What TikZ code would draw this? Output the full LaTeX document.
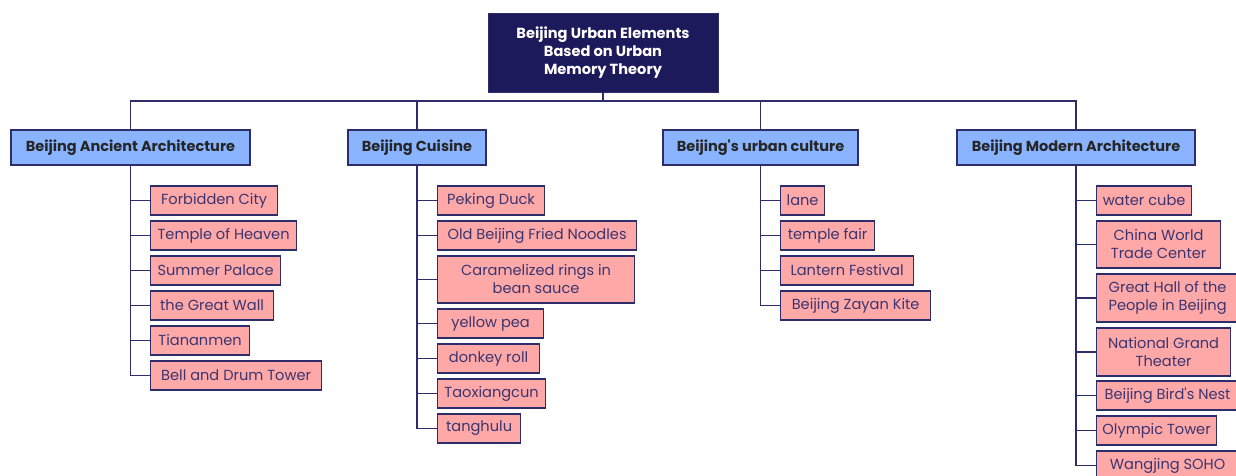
\documentclass[tikz,border=0pt]{standalone}
\usepackage{fontspec}
\setmainfont{Poppins}
\definecolor{navy}{HTML}{1C1A5A}
\definecolor{edge}{HTML}{2E2D6B}
\definecolor{catfill}{HTML}{8AB4FF}
\definecolor{leaffill}{HTML}{FFA8A8}
\definecolor{leaftext}{HTML}{3A3570}
\begin{document}
\begin{tikzpicture}[x=1pt,y=-1pt,
  rootbox/.style={draw=edge,line width=1pt,fill=navy,text=white,font=\fontsize{14.6}{18}\selectfont\bfseries,align=center,minimum width=230pt,minimum height=79pt,inner sep=0pt},
  catbox/.style={draw=edge,line width=1.2pt,fill=catfill,text=black!85,font=\fontsize{14.5}{17}\selectfont\bfseries,minimum height=35pt,inner sep=0pt},
  leaf/.style={draw=edge,line width=1.2pt,fill=leaffill,text=leaftext,font=\fontsize{14.6}{18}\selectfont,align=center,anchor=west,inner sep=0pt},
  conn/.style={draw=edge,line width=1.6pt}]
\useasboundingbox (0,0) rectangle (1236,475);
\clip (0,0) rectangle (1236,475);
\fill[white] (0,0) rectangle (1236,475);

\node[rootbox] (root) at (603,52.5) {Beijing Urban Elements\\Based on Urban\\Memory Theory};
\coordinate (bus) at (603,101);

\node[catbox,minimum width=239pt] (ca) at (130.5,147.5) {Beijing Ancient Architecture};
\node[catbox,minimum width=138pt] (cb) at (417,147.5) {Beijing Cuisine};
\node[catbox,minimum width=195pt] (cc) at (760.5,147.5) {Beijing\textquotesingle s urban culture};
\node[catbox,minimum width=238pt] (cd) at (1076,147.5) {Beijing Modern Architecture};

\foreach \c in {ca,cb,cc,cd} \draw[conn] (root.south) |- (\c.north |- bus) -- (\c.north);

% Ancient
\node[leaf,minimum width=127pt,minimum height=29pt] (a1) at (150,200.5) {Forbidden City};
\node[leaf,minimum width=146pt,minimum height=29pt] (a2) at (150,235.5) {Temple of Heaven};
\node[leaf,minimum width=130pt,minimum height=29pt] (a3) at (150,270.5) {Summer Palace};
\node[leaf,minimum width=123pt,minimum height=29pt] (a4) at (150,305.5) {the Great Wall};
\node[leaf,minimum width=99pt,minimum height=29pt] (a5) at (150,340.5) {Tiananmen};
\node[leaf,minimum width=171pt,minimum height=29pt] (a6) at (150,375.5) {Bell and Drum Tower};
\foreach \n in {a1,a2,a3,a4,a5,a6} \draw[conn] (ca.south) |- (\n.west);

% Cuisine
\node[leaf,minimum width=107pt,minimum height=29pt] (b1) at (437,200.5) {Peking Duck};
\node[leaf,minimum width=199pt,minimum height=29pt] (b2) at (437,235.5) {Old Beijing Fried Noodles};
\node[leaf,minimum width=197pt,minimum height=47pt] (b3) at (437,279.5) {Caramelized rings in\\bean sauce};
\node[leaf,minimum width=106pt,minimum height=29pt] (b4) at (437,323.5) {yellow pea};
\node[leaf,minimum width=102pt,minimum height=29pt] (b5) at (437,358.5) {donkey roll};
\node[leaf,minimum width=108pt,minimum height=29pt] (b6) at (437,393.5) {Taoxiangcun};
\node[leaf,minimum width=83pt,minimum height=29pt] (b7) at (437,428.5) {tanghulu};
\foreach \n in {b1,b2,b3,b4,b5,b6,b7} \draw[conn] (cb.south) |- (\n.west);

% Urban culture
\node[leaf,minimum width=44pt,minimum height=29pt] (c1) at (780,200.5) {lane};
\node[leaf,minimum width=94pt,minimum height=29pt] (c2) at (780,235.5) {temple fair};
\node[leaf,minimum width=133pt,minimum height=29pt] (c3) at (780,270.5) {Lantern Festival};
\node[leaf,minimum width=150pt,minimum height=29pt] (c4) at (780,305.5) {Beijing Zayan Kite};
\foreach \n in {c1,c2,c3,c4} \draw[conn] (cc.south) |- (\n.west);

% Modern
\node[leaf,minimum width=95pt,minimum height=29pt] (d1) at (1096,200.5) {water cube};
\node[leaf,minimum width=124pt,minimum height=47pt] (d2) at (1096,244.5) {China World\\Trade Center};
\node[leaf,minimum width=142pt,minimum height=48pt] (d3) at (1096,298) {Great Hall of the\\People in Beijing};
\node[leaf,minimum width=134pt,minimum height=48pt] (d4) at (1096,352) {National Grand\\Theater};
\node[leaf,minimum width=142pt,minimum height=29pt] (d5) at (1096,395.5) {Beijing Bird\textquotesingle s Nest};
\node[leaf,minimum width=120pt,minimum height=29pt] (d6) at (1096,430.5) {Olympic Tower};
\node[leaf,minimum width=142pt,minimum height=29pt] (d7) at (1096,465.5) {Wangjing SOHO};
\foreach \n in {d1,d2,d3,d4,d5,d6,d7} \draw[conn] (cd.south) |- (\n.west);
\end{tikzpicture}
\end{document}
